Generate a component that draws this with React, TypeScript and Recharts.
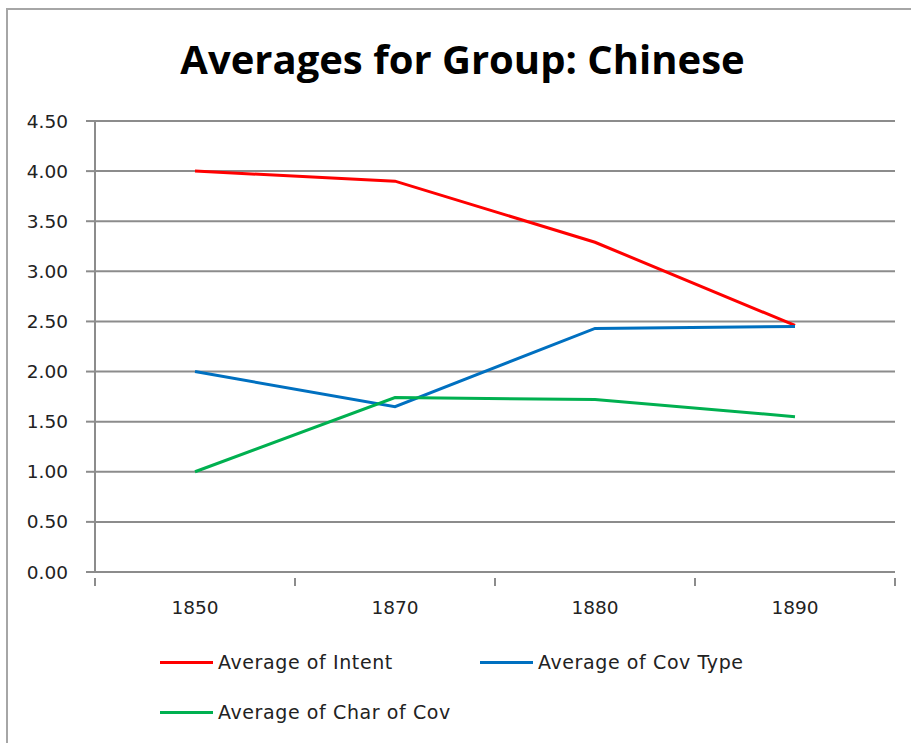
import { LineChart, Line, XAxis, YAxis, CartesianGrid } from 'recharts';

const YEARS = ['1850', '1870', '1880', '1890'];
const INTENT = [4.0, 3.9, 3.29, 2.46];
const COV_TYPE = [2.0, 1.65, 2.43, 2.45];
const CHAR_OF_COV = [1.0, 1.74, 1.72, 1.55];
const Y_TICKS = [0, 0.5, 1, 1.5, 2, 2.5, 3, 3.5, 4, 4.5];

const SERIES = [
  { key: 'intent', name: 'Average of Intent', color: '#ff0000' },
  { key: 'covType', name: 'Average of Cov Type', color: '#0070c0' },
  { key: 'charOfCov', name: 'Average of Char of Cov', color: '#00b050' },
];

const data = YEARS.map((year, i) => ({
  year,
  intent: INTENT[i],
  covType: COV_TYPE[i],
  charOfCov: CHAR_OF_COV[i],
}));

const W = 911;
const H = 743;
const MARGIN = { top: 121, right: 16, bottom: 141, left: 20 };
const Y_AXIS_W = 75;
const GRID = '#8c8c8c';
const TITLE_FONT = "'Open Sans', 'DejaVu Sans', sans-serif";
const FONT = "'DejaVu Sans', sans-serif";

// excel style: labels centred in each band, tick marks on the band edges
function XTick(props: any) {
  const { x, y, payload, index } = props;
  const bw = (W - MARGIN.left - Y_AXIS_W - MARGIN.right) / YEARS.length;
  const top = y - 18;
  return (
    <g>
      <line x1={x - bw / 2} x2={x - bw / 2} y1={top} y2={top + 8} stroke={GRID} strokeWidth={2} />
      {index === YEARS.length - 1 && (
        <line x1={x + bw / 2} x2={x + bw / 2} y1={top} y2={top + 8} stroke={GRID} strokeWidth={2} />
      )}
      <text x={x} y={y + 11} textAnchor="middle" dominantBaseline="central" fontSize={18.5} fill="#222" fontFamily={FONT}>
        {payload.value}
      </text>
    </g>
  );
}

export default function App() {
  return (
    <div style={{ position: 'absolute', left: 0, top: 0, width: W, height: H, background: '#fff', overflow: 'hidden' }}>
      <div
        style={{
          position: 'absolute',
          left: 6,
          top: 8,
          width: W,
          height: H,
          borderTop: '2px solid #a6a6a6',
          borderLeft: '2px solid #a6a6a6',
        }}
      />
      <div
        style={{
          position: 'absolute',
          left: 0,
          width: 925,
          top: 31,
          textAlign: 'center',
          fontFamily: TITLE_FONT,
          fontWeight: 700,
          fontSize: 40,
          color: '#000',
        }}
      >
        Averages for Group: Chinese
      </div>
      <div style={{ position: 'absolute', left: 0, top: 0 }}>
        <LineChart width={W} height={H} data={data} margin={MARGIN}>
          <CartesianGrid vertical={false} stroke={GRID} strokeWidth={2} />
          <XAxis
            dataKey="year"
            scale="band"
            axisLine={{ stroke: GRID, strokeWidth: 2 }}
            tickLine={false}
            tick={<XTick />}
            tickMargin={18}
            interval={0}
            height={30}
          />
          <YAxis
            domain={[0, 4.5]}
            ticks={Y_TICKS}
            tickFormatter={(v: number) => v.toFixed(2)}
            axisLine={{ stroke: GRID, strokeWidth: 2 }}
            tickLine={{ stroke: GRID, strokeWidth: 2 }}
            tickSize={9}
            tickMargin={18}
            width={Y_AXIS_W}
            tick={{ fontSize: 18.5, fill: '#222', fontFamily: FONT }}
          />
          {SERIES.map((s) => (
            <Line
              key={s.key}
              type="linear"
              dataKey={s.key}
              name={s.name}
              stroke={s.color}
              strokeWidth={3}
              dot={false}
              isAnimationActive={false}
            />
          ))}
        </LineChart>
      </div>
      {SERIES.map((s, i) => (
        <div
          key={s.key}
          style={{
            position: 'absolute',
            left: i === 1 ? 480 : 160,
            top: i === 2 ? 701 : 651,
            display: 'flex',
            alignItems: 'center',
            fontFamily: FONT,
            fontSize: 19,
            letterSpacing: 0.6,
            color: '#222',
          }}
        >
          <span style={{ display: 'inline-block', width: 53, height: 3, background: s.color, marginRight: 5 }} />
          {s.name}
        </div>
      ))}
    </div>
  );
}
